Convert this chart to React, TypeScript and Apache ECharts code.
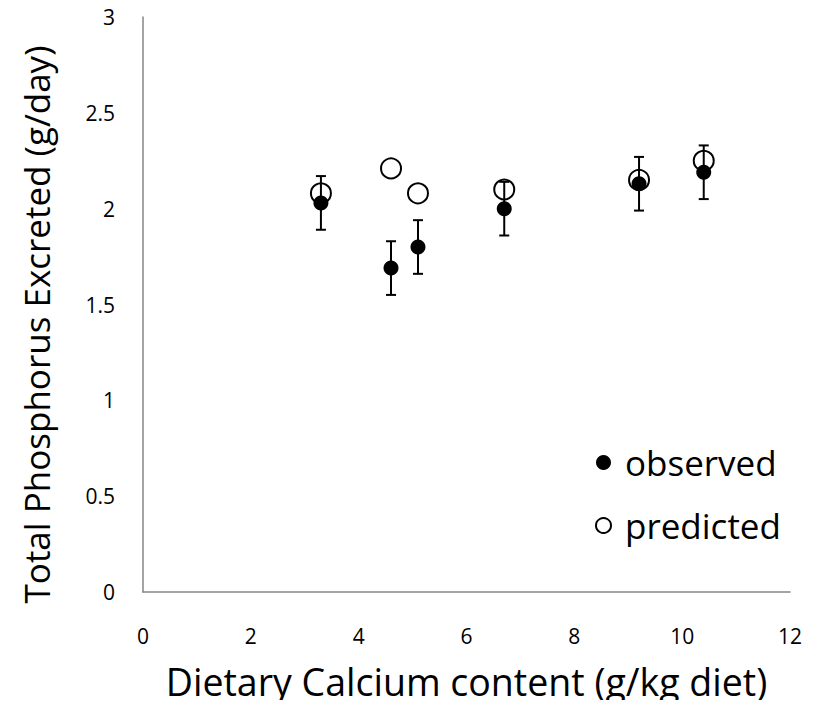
import React, { useEffect, useRef } from "react";
import * as echarts from "echarts";

const calcium = [3.3, 4.6, 5.1, 6.7, 9.2, 10.4];
const observed = [2.03, 1.69, 1.8, 2.0, 2.13, 2.19];
const observedErr = [0.14, 0.14, 0.14, 0.14, 0.14, 0.14];
const predicted = [2.08, 2.21, 2.08, 2.1, 2.15, 2.25];

const FONT = "Open Sans";

export default function App() {
  const ref = useRef<HTMLDivElement>(null);
  useEffect(() => {
    if (!ref.current) return;
    const chart = echarts.init(ref.current, undefined, { renderer: "svg" });
    const obsData = calcium.map((x, i) => [x, observed[i]]);
    const predData = calcium.map((x, i) => [x, predicted[i]]);
    const errData = calcium.map((x, i) => [x, observed[i] - observedErr[i], observed[i] + observedErr[i]]);
    chart.setOption({
      animation: false,
      textStyle: { fontFamily: FONT },
      grid: { left: 143, right: 26, top: 17, bottom: 116 },
      legend: {
        orient: "vertical",
        left: 590,
        top: 440,
        itemGap: 28,
        itemWidth: 15,
        itemHeight: 15,
        textStyle: { fontSize: 35, color: "#000", fontFamily: FONT, padding: [0, 0, 0, 9] },
        data: ["observed", "predicted"],
      },
      xAxis: {
        type: "value",
        min: 0,
        max: 12,
        interval: 2,
        name: "Dietary Calcium content (g/kg diet)",
        nameLocation: "middle",
        nameGap: 70,
        nameTextStyle: { fontSize: 37.5, color: "#000", fontFamily: FONT },
        axisLine: { show: true, lineStyle: { color: "#868686", width: 1.5 } },
        axisTick: { show: false },
        splitLine: { show: false },
        axisLabel: { fontSize: 21, color: "#000", margin: 33, fontFamily: FONT },
      },
      yAxis: {
        type: "value",
        min: 0,
        max: 3,
        interval: 0.5,
        name: "Total Phosphorus Excreted (g/day)",
        nameLocation: "middle",
        nameGap: 89,
        nameTextStyle: { fontSize: 35, color: "#000", fontFamily: FONT, padding: [0, 40, 0, 0] },
        axisLine: { show: true, lineStyle: { color: "#868686", width: 1.5 } },
        axisTick: { show: false },
        splitLine: { show: false },
        axisLabel: { fontSize: 21, color: "#000", margin: 28, fontFamily: FONT },
      },
      series: [
        {
          name: "predicted",
          type: "scatter",
          data: predData,
          symbol: "circle",
          symbolSize: 20,
          itemStyle: { color: "#fff", borderColor: "#000", borderWidth: 2, opacity: 1 },
          z: 2,
        },
        {
          name: "errors",
          type: "custom",
          data: errData,
          encode: { x: 0, y: [1, 2] },
          z: 3,
          renderItem: (params: any, api: any) => {
            const x = api.value(0);
            const lo = api.coord([x, api.value(1)]);
            const hi = api.coord([x, api.value(2)]);
            const w = 5;
            const style = { stroke: "#000", lineWidth: 2 };
            return {
              type: "group",
              children: [
                { type: "line", shape: { x1: lo[0], y1: lo[1], x2: hi[0], y2: hi[1] }, style },
                { type: "line", shape: { x1: lo[0] - w, y1: lo[1], x2: lo[0] + w, y2: lo[1] }, style },
                { type: "line", shape: { x1: hi[0] - w, y1: hi[1], x2: hi[0] + w, y2: hi[1] }, style },
              ],
            };
          },
        },
        {
          name: "observed",
          type: "scatter",
          data: obsData,
          symbol: "circle",
          symbolSize: 15,
          itemStyle: { color: "#000", opacity: 1 },
          z: 4,
        },
      ],
    });
    return () => chart.dispose();
  }, []);
  return <div ref={ref} style={{ width: 816, height: 708, margin: -8 }} />;
}
